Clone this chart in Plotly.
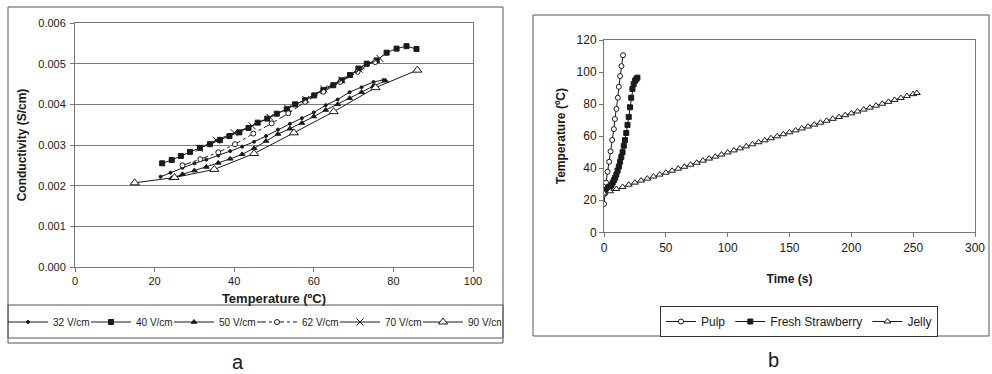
import plotly.graph_objects as go

W, H = 992, 374

# ---------------- Panel a: conductivity vs temperature ----------------
a_32_x = [21.5, 24, 27, 30, 33, 36, 39, 42, 45, 48, 51, 54, 57, 60, 63, 66, 69, 72, 75, 77.5]
a_32_y = [0.00222, 0.00232, 0.00244, 0.00255, 0.00264, 0.00274, 0.00285, 0.00296, 0.00308, 0.00322,
          0.00338, 0.00352, 0.00366, 0.00380, 0.00398, 0.00412, 0.00430, 0.00442, 0.00455, 0.00460]

a_40_x = [21.9, 24.3, 26.6, 28.9, 31.4, 33.9, 36.4, 38.8, 41.3, 43.6, 45.9, 48.3, 50.7, 53.2,
          55.3, 57.8, 60.1, 62.4, 64.9, 67.0, 69.1, 71.2, 73.3, 75.8, 78.3, 80.8, 83.3, 85.8]
a_40_y = [0.00255, 0.00263, 0.00273, 0.00283, 0.00293, 0.00302, 0.00312, 0.00322, 0.00331, 0.00342,
          0.00355, 0.00365, 0.00377, 0.00388, 0.00400, 0.00410, 0.00422, 0.00435, 0.00447, 0.00459,
          0.00472, 0.00488, 0.00500, 0.00508, 0.00527, 0.00537, 0.00543, 0.00536]

a_50_x = [24.3, 27, 30, 33, 36, 39, 42, 45, 48, 51, 54, 57, 60, 63, 66, 69, 72, 75, 78]
a_50_y = [0.00218, 0.00228, 0.00237, 0.00246, 0.00256, 0.00266, 0.00277, 0.00292, 0.00310, 0.00327,
          0.00340, 0.00354, 0.00370, 0.00386, 0.00400, 0.00415, 0.00430, 0.00445, 0.00458]

a_62_x = [27, 31.5, 36, 40.2, 44.8, 49.4, 53.6, 57.8, 62.4, 66.6, 71, 75.4]
a_62_y = [0.00250, 0.00265, 0.00282, 0.00302, 0.00328, 0.00353, 0.00378, 0.00406, 0.00431, 0.00455,
          0.00480, 0.00504]

a_70_x = [31.2, 35.5, 40, 44.5, 49, 53.5, 58, 62.5, 67, 71.5, 76.6]
a_70_y = [0.00292, 0.00312, 0.00330, 0.00347, 0.00368, 0.00390, 0.00412, 0.00438, 0.00460, 0.00486,
          0.00513]

a_90_x = [15, 25, 35, 45, 55, 65, 75.5, 86]
a_90_y = [0.00207, 0.00220, 0.00240, 0.00279, 0.00330, 0.00382, 0.00441, 0.00484]

a_x_ticks = [0, 20, 40, 60, 80, 100]
a_y_ticks = [0.000, 0.001, 0.002, 0.003, 0.004, 0.005, 0.006]

# ---------------- Panel b: temperature vs time ----------------
pulp_t = [0, 0.5, 1.6, 2.9, 4.2, 5.3, 6.6, 8.0, 8.8, 10.1, 11.2, 12.0, 13.0, 14.1, 15.4]
pulp_T = [17.7, 24, 31, 37.8, 44, 50.5, 57.6, 64.4, 70.7, 77, 84, 90.8, 97.5, 103.7, 110.5]

straw_t = list(range(0, 28))
straw_T = [25, 26, 26.5, 27, 28, 28.5, 29.5, 31, 32.5, 34, 36, 38.5, 41, 44, 47, 50, 54, 57.5,
           62, 67, 72, 78, 84, 89.5, 92.5, 94.5, 95.5, 96.5]

jelly_t = [0, 5, 10, 15, 20, 25, 30, 35, 40, 45, 50, 55, 60, 65, 70, 75, 80, 85, 90, 95, 100,
           105, 110, 115, 120, 125, 130, 135, 140, 145, 150, 155, 160, 165, 170, 175, 180, 185,
           190, 195, 200, 205, 210, 215, 220, 225, 230, 235, 240, 245, 250, 253]
jelly_T = [24.3, 25.6, 27.0, 28.3, 29.7, 31.0, 32.3, 33.5, 34.8, 36.0, 37.2, 38.4, 39.7, 40.9,
           42.2, 43.4, 44.7, 46.0, 47.2, 48.5, 49.8, 51.1, 52.4, 53.6, 54.9, 56.2, 57.4, 58.7,
           59.9, 61.2, 62.4, 63.6, 64.8, 66.0, 67.2, 68.4, 69.6, 70.8, 71.9, 73.1, 74.2, 75.4,
           76.6, 77.8, 79.0, 80.2, 81.4, 82.6, 83.8, 85.0, 86.2, 86.9]

b_x_ticks = [0, 50, 100, 150, 200, 250, 300]
b_y_ticks = [0, 20, 40, 60, 80, 100, 120]

INK = "#1a1a1a"
FONT = "Arial, Liberation Sans, sans-serif"

fig = go.Figure()

def add_a(x, y, name, symbol, size, dash="solid", open_=False):
    fig.add_trace(go.Scatter(
        x=x, y=y, name=name, mode="lines+markers", xaxis="x", yaxis="y", legend="legend",
        line=dict(color=INK, width=1, dash=dash),
        marker=dict(symbol=symbol, size=size, color="white" if open_ else INK,
                    line=dict(color=INK, width=1)),
    ))

add_a(a_32_x, a_32_y, "32 V/cm", "circle", 3)
add_a(a_40_x, a_40_y, "40 V/cm", "square", 5)
add_a(a_50_x, a_50_y, "50 V/cm", "triangle-up", 5)
add_a(a_62_x, a_62_y, "62 V/cm", "circle", 5, dash="dashdot", open_=True)
add_a(a_70_x, a_70_y, "70 V/cm", "x-thin-open", 7)
add_a(a_90_x, a_90_y, "90 V/cm", "triangle-up", 8, open_=True)

def add_b(x, y, name, symbol, size, open_=False):
    fig.add_trace(go.Scatter(
        x=x, y=y, name=name, mode="lines+markers", xaxis="x2", yaxis="y2", legend="legend2",
        line=dict(color=INK, width=1),
        marker=dict(symbol=symbol, size=size, color="white" if open_ else INK,
                    line=dict(color=INK, width=1)),
    ))

add_b(pulp_t, pulp_T, "Pulp", "circle", 5, open_=True)
add_b(straw_t, straw_T, "Fresh Strawberry", "square", 5)
add_b(jelly_t, jelly_T, "Jelly", "triangle-up", 6, open_=True)

def px(x):
    return x / W

def py(y):
    return 1 - y / H

shapes = [
    dict(type="rect", xref="paper", yref="paper", x0=px(8), x1=px(503), y0=py(343), y1=py(7),
         line=dict(color="#555", width=1)),
    dict(type="rect", xref="paper", yref="paper", x0=px(8), x1=px(503), y0=py(338), y1=py(305),
         line=dict(color="#555", width=1)),
    dict(type="rect", xref="paper", yref="paper", x0=px(533), x1=px(989), y0=py(336), y1=py(15),
         line=dict(color="#555", width=1)),
]

fig.update_layout(
    width=W, height=H, margin=dict(l=0, r=0, t=0, b=0, autoexpand=False),
    paper_bgcolor="white", plot_bgcolor="white",
    font=dict(family=FONT, color=INK, size=11),
    shapes=shapes,
    xaxis=dict(domain=[px(75), px(473)], range=[0, 100], tickvals=a_x_ticks, automargin=False,
               showgrid=False, zeroline=False, showline=True, linecolor="#777", mirror=True,
               ticks="outside", ticklen=4, tickcolor="#777", tickfont=dict(size=11),
               title=dict(text="<b>Temperature (ºC)</b>", font=dict(size=13), standoff=7),
               anchor="y"),
    yaxis=dict(domain=[py(267), py(23)], range=[0, 0.006], tickvals=a_y_ticks, automargin=False,
               tickformat=".3f", showgrid=True, gridcolor="#7a7a7a", gridwidth=1,
               zeroline=False, showline=True, linecolor="#777", mirror=True,
               ticks="outside", ticklen=4, tickcolor="#777", tickfont=dict(size=11),
               ticklabelstandoff=2,
               title=dict(text="<b>Conductivity (S/cm)</b>", font=dict(size=12), standoff=9),
               anchor="x"),
    xaxis2=dict(domain=[px(604), px(975)], range=[0, 300], tickvals=b_x_ticks, automargin=False,
                showgrid=False, zeroline=False, showline=True, linecolor="#777", mirror=True,
                ticks="outside", ticklen=4, tickcolor="#777", tickfont=dict(size=12),
                title=dict(text="<b>Time (s)</b>", font=dict(size=12), standoff=20),
                anchor="y2"),
    yaxis2=dict(domain=[py(232.3), py(40)], range=[0, 120], tickvals=b_y_ticks, automargin=False,
                showgrid=False, zeroline=False, showline=True, linecolor="#777", mirror=True,
                ticks="outside", ticklen=4, tickcolor="#777", tickfont=dict(size=12),
                title=dict(text="<b>Temperature (ºC)</b>", font=dict(size=12), standoff=8),
                anchor="x2"),
    legend=dict(orientation="h", x=px(3), xanchor="left", y=py(322), yanchor="middle",
                bgcolor="rgba(0,0,0,0)", borderwidth=0, font=dict(size=10),
                entrywidth=28, entrywidthmode="pixels", itemwidth=40, tracegroupgap=0),
    legend2=dict(orientation="h", x=px(660), xanchor="left", y=py(306), yanchor="top",
                 bgcolor="white", bordercolor="#333", borderwidth=1, font=dict(size=12),
                 itemwidth=30),
    annotations=[
        dict(text="a", x=px(238), y=py(362), xref="paper", yref="paper", showarrow=False,
             font=dict(size=20, family=FONT), xanchor="center", yanchor="middle"),
        dict(text="b", x=px(773), y=py(360), xref="paper", yref="paper", showarrow=False,
             font=dict(size=20, family=FONT), xanchor="center", yanchor="middle"),
    ],
)

fig.write_html("out.html", config={"displayModeBar": False},
               post_script="document.body.style.margin='0px';document.body.style.overflow='hidden';")
